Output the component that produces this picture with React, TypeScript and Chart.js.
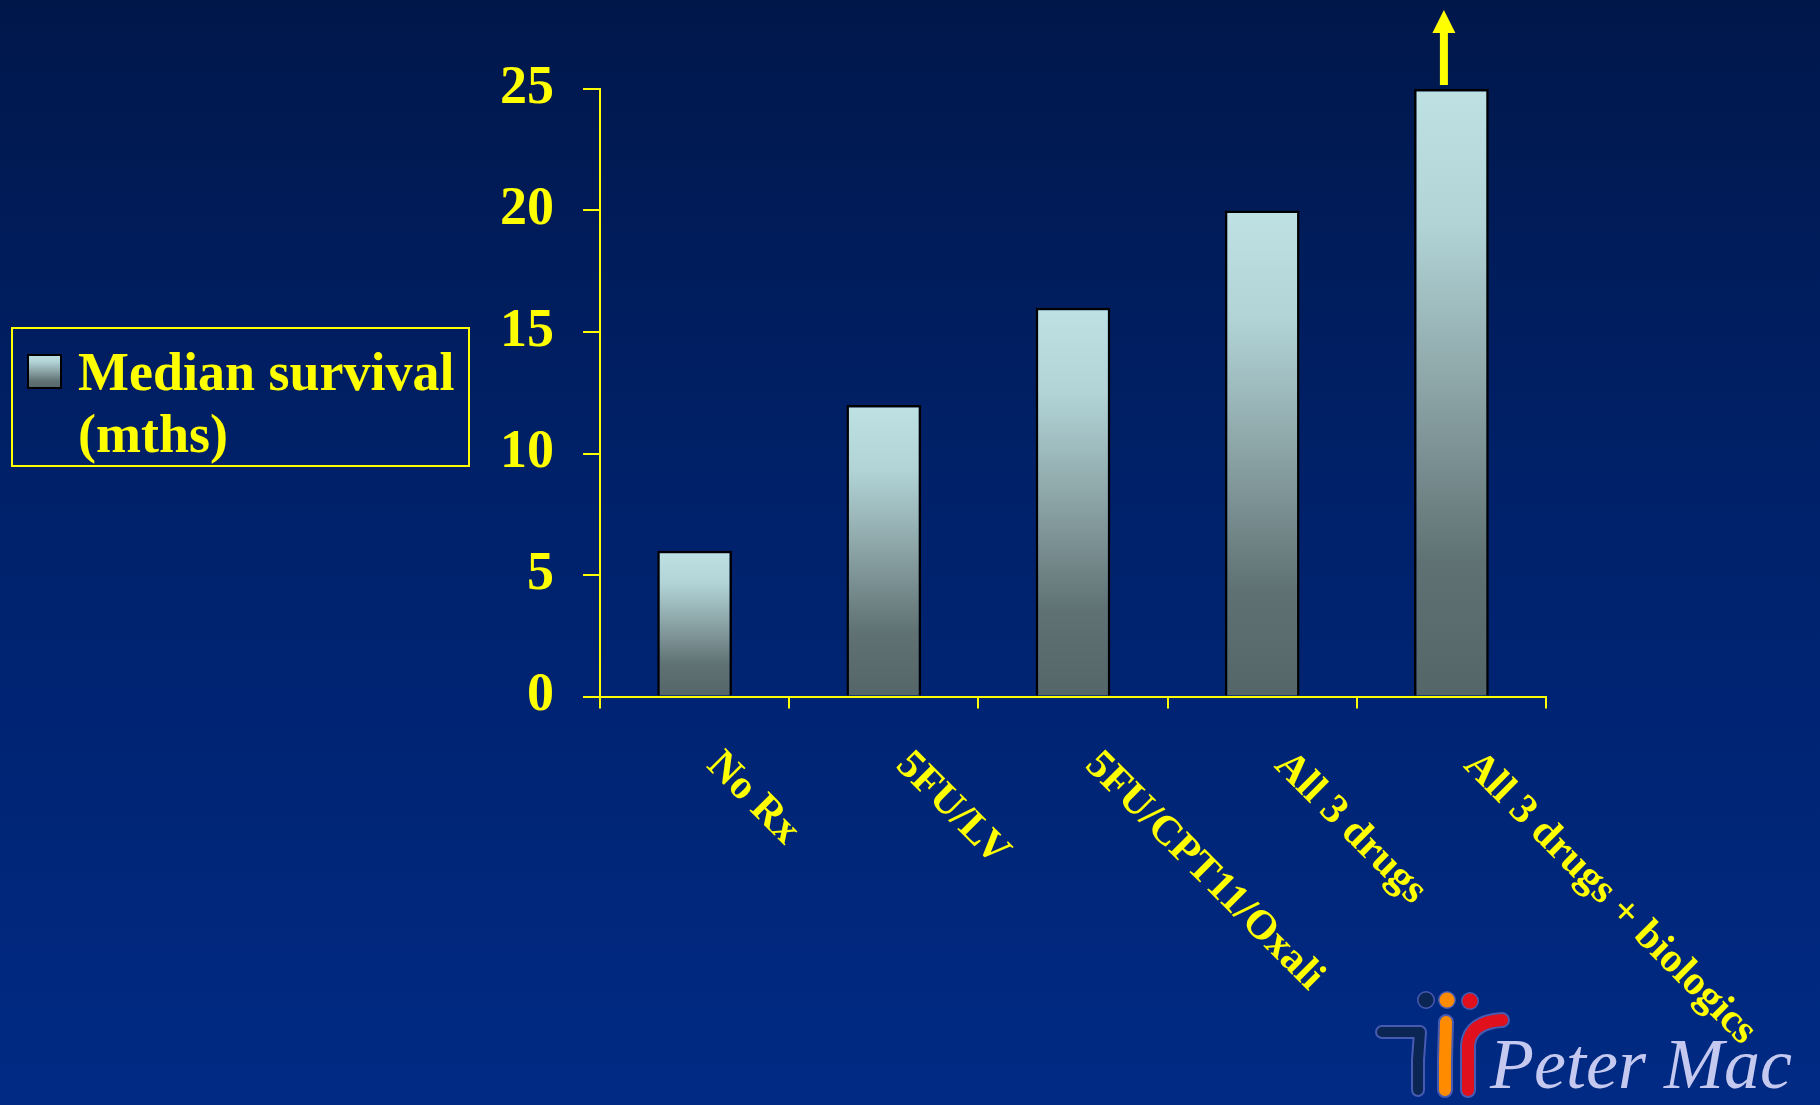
import React, { useEffect, useRef } from "react";
import { Chart, registerables } from "chart.js";

Chart.register(...registerables);

// Chart data
const categories = ["No Rx", "5FU/LV", "5FU/CPT11/Oxali", "All 3 drugs", "All 3 drugs + biologics"];
const survivalMonths = [6, 12, 16, 20, 25];
const seriesLabel = ["Median survival", "(mths)"];
const yMin = 0;
const yMax = 25;
const yStep = 5;
const logoText = "Peter Mac";

const YELLOW = "#ffff00";
const SERIF = "'Liberation Serif', 'Times New Roman', serif";

function addBarStops(g: CanvasGradient) {
  g.addColorStop(0, "#bee1e4");
  g.addColorStop(0.22, "#b2d4d7");
  g.addColorStop(0.5, "#8ba3a5");
  g.addColorStop(0.78, "#5f7173");
  g.addColorStop(1, "#556668");
}

const backgroundPlugin = {
  id: "slideBackground",
  beforeDraw(chart: any) {
    const { ctx, width, height } = chart;
    const g = ctx.createLinearGradient(0, 0, 0, height);
    g.addColorStop(0, "#00174a");
    g.addColorStop(0.45, "#00216a");
    g.addColorStop(1, "#002a84");
    ctx.save();
    ctx.fillStyle = g;
    ctx.fillRect(0, 0, width, height);
    ctx.restore();
  },
};

const categoryLabelsPlugin = {
  id: "slantedCategoryLabels",
  afterDraw(chart: any) {
    const { ctx } = chart;
    const xs = chart.scales.x;
    ctx.save();
    ctx.fillStyle = YELLOW;
    ctx.font = `bold 41.5px ${SERIF}`;
    ctx.textAlign = "left";
    ctx.textBaseline = "alphabetic";
    categories.forEach((c, i) => {
      const x = xs.getPixelForValue(i) + 11;
      const y = xs.top + 70;
      ctx.save();
      ctx.translate(x, y);
      ctx.rotate(Math.PI / 4);
      ctx.fillText(c, 0, 0);
      ctx.restore();
    });
    ctx.restore();
  },
};

const arrowPlugin = {
  id: "upArrow",
  afterDatasetsDraw(chart: any) {
    const { ctx } = chart;
    const meta = chart.getDatasetMeta(0);
    const bar = meta.data[survivalMonths.length - 1];
    if (!bar) return;
    const cx = bar.x - 7.5;
    const base = bar.y - 4;
    const tip = bar.y - 79;
    const headBase = tip + 23;
    ctx.save();
    ctx.fillStyle = YELLOW;
    ctx.beginPath();
    ctx.moveTo(cx - 4, base);
    ctx.lineTo(cx - 4, headBase);
    ctx.lineTo(cx - 11.5, headBase);
    ctx.lineTo(cx, tip);
    ctx.lineTo(cx + 11.5, headBase);
    ctx.lineTo(cx + 4, headBase);
    ctx.lineTo(cx + 4, base);
    ctx.closePath();
    ctx.fill();
    ctx.restore();
  },
};

const legendBoxPlugin = {
  id: "legendBox",
  afterDraw(chart: any) {
    const { ctx } = chart;
    ctx.save();
    ctx.strokeStyle = YELLOW;
    ctx.lineWidth = 2;
    ctx.strokeRect(12, 328, 457, 138);

    const g = ctx.createLinearGradient(0, 354, 0, 389);
    addBarStops(g);
    ctx.fillStyle = g;
    ctx.fillRect(27, 354, 35, 35);
    ctx.strokeStyle = "#000";
    ctx.lineWidth = 2;
    ctx.strokeRect(28, 355, 33, 33);

    ctx.fillStyle = YELLOW;
    ctx.font = `bold 54px ${SERIF}`;
    ctx.textAlign = "left";
    ctx.textBaseline = "alphabetic";
    ctx.fillText(seriesLabel[0], 78, 390);
    ctx.fillText(seriesLabel[1], 78, 452);
    ctx.restore();
  },
};

const logoPlugin = {
  id: "logo",
  afterDraw(chart: any) {
    const { ctx } = chart;
    ctx.save();
    ctx.lineCap = "round";
    ctx.lineJoin = "round";
    const halo = "rgba(140,140,225,0.5)";
    const stroke = (pts: number[][], color: string, w: number) => {
      ctx.beginPath();
      ctx.moveTo(pts[0][0], pts[0][1]);
      for (let i = 1; i < pts.length; i++) ctx.lineTo(pts[i][0], pts[i][1]);
      ctx.strokeStyle = halo;
      ctx.lineWidth = w + 4;
      ctx.stroke();
      ctx.strokeStyle = color;
      ctx.lineWidth = w;
      ctx.stroke();
    };
    const dot = (x: number, y: number, color: string) => {
      ctx.beginPath();
      ctx.arc(x, y, 9, 0, Math.PI * 2);
      ctx.fillStyle = halo;
      ctx.fill();
      ctx.beginPath();
      ctx.arc(x, y, 7.5, 0, Math.PI * 2);
      ctx.fillStyle = color;
      ctx.fill();
    };
    stroke([[1382, 1032], [1420, 1032], [1418, 1060], [1418, 1090]], "#0c2654", 10);
    stroke([[1446, 1022], [1445, 1060], [1445, 1090]], "#ff8c00", 12);
    ctx.beginPath();
    ctx.moveTo(1468, 1090);
    ctx.lineTo(1468, 1045);
    ctx.quadraticCurveTo(1470, 1022, 1502, 1020);
    ctx.strokeStyle = halo;
    ctx.lineWidth = 16;
    ctx.stroke();
    ctx.strokeStyle = "#e0101c";
    ctx.lineWidth = 12;
    ctx.stroke();
    dot(1426, 1000, "#0c2654");
    dot(1447, 1000, "#ff8c00");
    dot(1470, 1001, "#e0101c");

    ctx.fillStyle = "#c6c9ef";
    ctx.font = `italic 72px ${SERIF}`;
    ctx.textAlign = "left";
    ctx.textBaseline = "alphabetic";
    ctx.fillText(logoText, 1490, 1088);
    ctx.restore();
  },
};

export default function App() {
  const ref = useRef<HTMLCanvasElement>(null);

  useEffect(() => {
    document.body.style.margin = "0";
    const canvas = ref.current;
    if (!canvas) return;

    const chart = new Chart(canvas, {
      type: "bar",
      data: {
        labels: categories,
        datasets: [
          {
            label: seriesLabel.join(" "),
            data: survivalMonths,
            backgroundColor: (c: any) => {
              const ch = c.chart;
              if (!ch.chartArea || c.type !== "data") return "#9fb9bb";
              const y = ch.scales.y;
              const top = y.getPixelForValue(c.raw as number);
              const base = y.getPixelForValue(0);
              const g = ch.ctx.createLinearGradient(0, top, 0, base);
              addBarStops(g);
              return g;
            },
            borderColor: "#000000",
            borderWidth: 2.5,
            barPercentage: 0.395,
            categoryPercentage: 1,
          },
        ],
      },
      options: {
        responsive: false,
        animation: false,
        devicePixelRatio: 1,
        layout: { padding: { top: 89, right: 274, bottom: 0, left: 0 } },
        plugins: {
          legend: { display: false },
          tooltip: { enabled: false },
        },
        scales: {
          x: {
            z: 1,
            offset: true,
            grid: {
              offset: true,
              drawOnChartArea: false,
              color: YELLOW,
              lineWidth: 2,
              tickLength: 12,
            },
            border: { color: YELLOW, width: 2 },
            ticks: { display: false },
            afterFit: (s: any) => {
              s.height = 408.5;
            },
          },
          y: {
            z: 1,
            min: yMin,
            max: yMax,
            ticks: {
              stepSize: yStep,
              color: YELLOW,
              padding: 29,
              font: { family: SERIF, size: 54, weight: "bold" },
            },
            grid: {
              drawOnChartArea: false,
              color: YELLOW,
              lineWidth: 2,
              tickLength: 17,
            },
            border: { color: YELLOW, width: 2 },
            afterFit: (s: any) => {
              s.width = 600;
            },
          },
        },
      } as any,
      plugins: [backgroundPlugin, categoryLabelsPlugin, arrowPlugin, legendBoxPlugin, logoPlugin],
    });

    return () => chart.destroy();
  }, []);

  return <canvas ref={ref} width={1820} height={1105} style={{ display: "block" }} />;
}
